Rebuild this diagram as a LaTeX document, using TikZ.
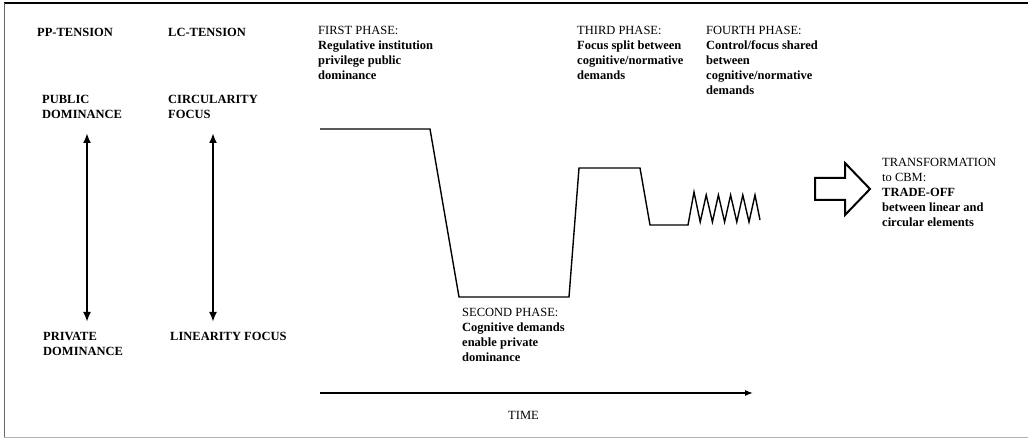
\documentclass[tikz,border=0pt]{standalone}
\usepackage{fontspec}
\setmainfont{Liberation Serif}
\usetikzlibrary{arrows.meta,positioning}

\begin{document}
\begin{tikzpicture}[x=1pt,y=-1pt,
    txt/.style={font=\fontsize{12.5}{15}\selectfont,inner sep=0pt,align=left,anchor=north west},
    head/.style={font=\fontsize{12.5}{15}\selectfont\bfseries,inner sep=0pt,anchor=base west},
    pole/.style={txt,font=\fontsize{12.5}{15}\selectfont\bfseries},
    tensionarrow/.style={line width=2.4pt,{Latex[length=10pt,width=8pt]}-{Latex[length=10pt,width=8pt]}},
    level/.style={line width=1.4pt,line join=miter}]
    \useasboundingbox (0,0) rectangle (1028,438);
    % frame
    \draw[line width=1.3pt] (4,3) -- (1028,3);
    \draw[gray!80!black,line width=1pt] (4,3) -- (4,437);
    \draw[gray!60,line width=1pt] (4,437) -- (1028,437);

    % tensions
    \node[head] (pp) at (37,37) {PP-TENSION};
    \node[head] (lc) at (168,37) {LC-TENSION};
    \node[pole] (pub) at (42,95.5) {PUBLIC\\DOMINANCE};
    \node[pole] (circ) at (168,95.5) {CIRCULARITY\\FOCUS};
    \node[pole] (priv) at (43,332.5) {PRIVATE\\DOMINANCE};
    \node[pole] (lin) at (170,332.5) {LINEARITY FOCUS};
    \coordinate (pp_top) at (87,133);
    \coordinate (pp_bot) at (87,322);
    \coordinate (lc_top) at (213,133);
    \coordinate (lc_bot) at (213,322);
    \draw[tensionarrow] (pp_top) -- (pp_bot);
    \draw[tensionarrow] (lc_top) -- (lc_bot);

    % phases
    \node[txt] (ph1) at (318,26.5) {FIRST PHASE:\\\textbf{Regulative institution}\\\textbf{privilege public}\\\textbf{dominance}};
    \node[txt] (ph2) at (462,308) {SECOND PHASE:\\\textbf{Cognitive demands}\\\textbf{enable private}\\\textbf{dominance}};
    \node[txt] (ph3) at (577,26.5) {THIRD PHASE:\\\textbf{Focus split between}\\\textbf{cognitive/normative}\\\textbf{demands}};
    \node[txt] (ph4) at (706,26.5) {FOURTH PHASE:\\\textbf{Control/focus shared}\\\textbf{between}\\\textbf{cognitive/normative}\\\textbf{demands}};

    % course of the tension
    \draw[level] (320,129) -- (430,129) -- (459,297) -- (569,297) -- (579,168)
        -- (640,168) -- (650,225) -- (688,225) -- (694,192)
        \foreach \k in {1,...,5} { -- ({688+12.2*\k},222) -- ({694+12.2*\k},195) }
        -- (760,220);

    % time axis
    \coordinate (t0) at (320,393);
    \coordinate (t1) at (753,393);
    \draw[line width=1.2pt,-{Latex[length=8pt,width=6pt]}] (t0) -- (t1);
    \node[font=\fontsize{12.5}{15}\selectfont,inner sep=0pt,anchor=base west] (time) at (508,419) {TIME};

    % transformation
    \draw[line width=2pt,line join=miter] (815,178) -- (845,178) -- (845,163) -- (870,189)
        -- (845,215) -- (845,200) -- (815,200) -- cycle;
    \node[txt] (cbm) at (882,158.5) {TRANSFORMATION\\to CBM:\\\textbf{TRADE-OFF}\\\textbf{between linear and}\\\textbf{circular elements}};
\end{tikzpicture}
\end{document}
